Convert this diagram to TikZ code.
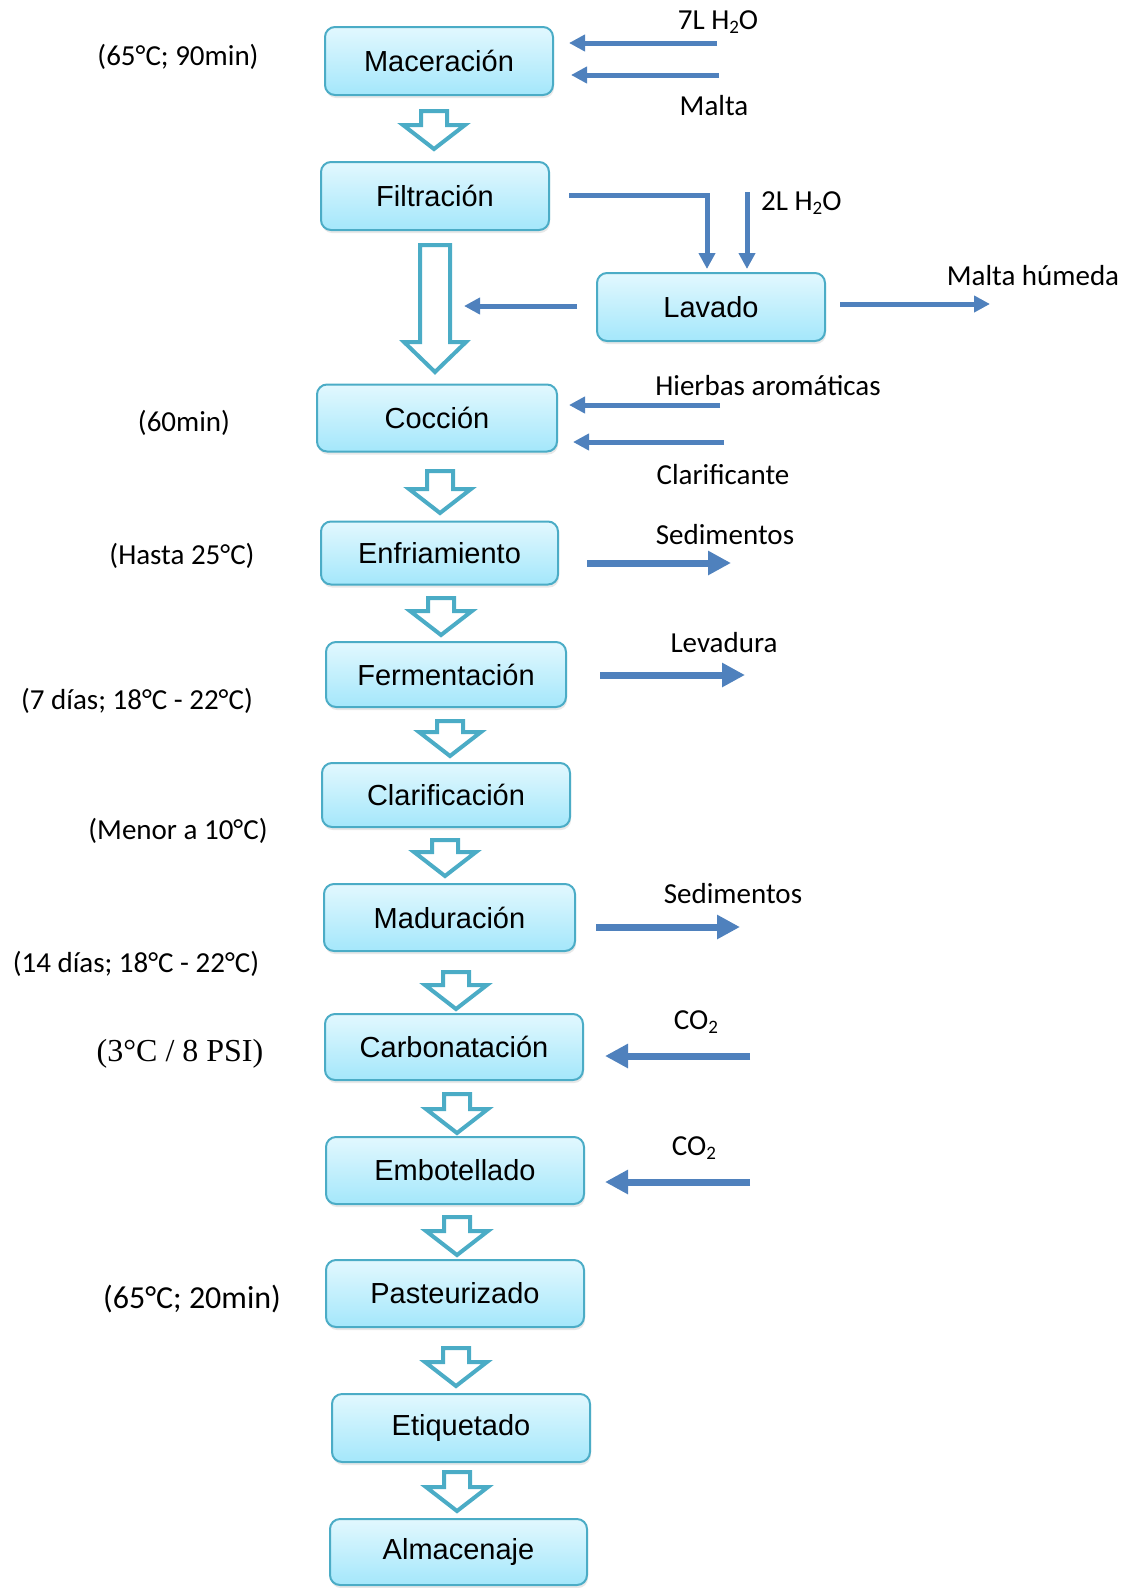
\documentclass[tikz,border=0pt]{standalone}
\usepackage{fontspec}
\setmainfont{Liberation Sans}
\newfontfamily\calfont{Carlito}
\newfontfamily\tmsfont{Liberation Serif}
\usetikzlibrary{arrows.meta,shadows}
\definecolor{boxedge}{HTML}{4BACC6}
\definecolor{boxtop}{HTML}{E2F8FE}
\definecolor{boxbot}{HTML}{A4E7FB}
\definecolor{flowblue}{HTML}{4F81BD}
\newcommand\subtwo{\raisebox{-0.25ex}{\fontsize{19}{19}\selectfont 2}}
\newcommand\harrow[3]{% cx, ytop, ytip
  \draw[hollow] (#1-13,#2) -- (#1+13,#2) -- (#1+13,#3-24) -- (#1+31,#3-24) -- (#1,#3) -- (#1-31,#3-24) -- (#1-13,#3-24) -- cycle;}
\tikzset{
  stepbox/.style={draw=boxedge, line width=2pt, rounded corners=10pt,
    top color=boxtop, bottom color=boxbot, inner sep=0pt,
    font=\fontsize{29}{31}\selectfont,
    drop shadow={opacity=0.18, shadow xshift=1pt, shadow yshift=-3pt}},
  lbl/.style={font=\calfont\fontsize{29}{31}\selectfont, inner sep=0pt},
  hollow/.style={draw=boxedge, line width=4pt, fill=white, line join=miter},
  thin/.style={draw=flowblue, line width=5pt, -{Triangle[length=16pt,width=16pt]}},
  thick/.style={draw=flowblue, line width=7pt, -{Triangle[length=23pt,width=23pt]}},
}
\begin{document}
\begin{tikzpicture}[x=1pt,y=-1pt]
\useasboundingbox (0,0) rectangle (1134,1588);
% hollow arrows (drawn first, boxes on top)
\harrow{434}{111}{149}
\draw[hollow] (420,245) -- (450,245) -- (450,342) -- (466,342) -- (435,372) -- (404,342) -- (420,342) -- cycle;
\harrow{440}{471}{513}
\harrow{441}{598}{635}
\harrow{450}{721}{756}
\harrow{445}{840}{876}
\harrow{456}{972}{1009}
\harrow{457}{1094}{1133}
\harrow{457}{1217}{1255}
\harrow{456}{1348}{1386}
\harrow{457}{1472}{1511}
% boxes
\node[stepbox, minimum width=228pt, minimum height=68pt] (mac) at (439,61) {Maceración};
\node[stepbox, minimum width=228pt, minimum height=68pt] (fil) at (435,196) {Filtración};
\node[stepbox, minimum width=228pt, minimum height=68pt] (lav) at (711,307) {Lavado};
\node[stepbox, minimum width=240pt, minimum height=67pt] (coc) at (437,418) {Cocción};
\node[stepbox, minimum width=237pt, minimum height=63pt] (enf) at (439.5,553) {Enfriamiento};
\node[stepbox, minimum width=240pt, minimum height=65pt] (fer) at (446,674.5) {Fermentación};
\node[stepbox, minimum width=248pt, minimum height=64pt] (cla) at (446,795) {Clarificación};
\node[stepbox, minimum width=251pt, minimum height=67pt] (mad) at (449.5,917.5) {Maduración};
\node[stepbox, minimum width=258pt, minimum height=66pt] (car) at (454,1047) {Carbonatación};
\node[stepbox, minimum width=258pt, minimum height=67pt] (emb) at (455,1170.5) {Embotellado};
\node[stepbox, minimum width=258pt, minimum height=67pt] (pas) at (455,1293.5) {Pasteurizado};
\node[stepbox, minimum width=258pt, minimum height=68pt] (eti) at (461,1428) {Etiquetado};
\node[stepbox, minimum width=257pt, minimum height=66pt] (alm) at (458.5,1552) {Almacenaje};
% left condition labels
\node[lbl] (c1) at (178,57) {(65°C; 90min)};
\node[lbl] (c2) at (184,423) {(60min)};
\node[lbl] (c3) at (182,556) {(Hasta 25°C)};
\node[lbl] (c4) at (137,701) {(7 días; 18°C - 22°C)};
\node[lbl] (c5) at (178,831) {(Menor a 10°C)};
\node[lbl] (c6) at (136,964) {(14 días; 18°C - 22°C)};
\node[font=\tmsfont\fontsize{32}{34}\selectfont, inner sep=0pt] (c7) at (180,1054) {(3°C / 8 PSI)};
\node[lbl, font=\calfont\fontsize{32}{34}\selectfont] (c8) at (192,1299) {(65°C; 20min)};
% right labels
\node[lbl] (l7l) at (718,22) {7L H\subtwo O};
\node[lbl] (lmal) at (714,106) {Malta};
\node[lbl, anchor=west] (l2l) at (761,203) {2L H\subtwo O};
\node[lbl] (lmh) at (1033,276) {Malta húmeda};
\node[lbl] (lhie) at (768,386) {Hierbas aromáticas};
\node[lbl] (lcla) at (723,475) {Clarificante};
\node[lbl] (lsed1) at (725,535) {Sedimentos};
\node[lbl] (llev) at (724,643) {Levadura};
\node[lbl] (lsed2) at (733,894) {Sedimentos};
\node[lbl] (lco1) at (696,1022) {CO\subtwo};
\node[lbl] (lco2) at (694,1148) {CO\subtwo};
% coordinates for free ends
\coordinate (a1s) at (717,43);  \coordinate (a1e) at (569,43);
\coordinate (a2s) at (719,75);  \coordinate (a2e) at (571,75);
\coordinate (f1s) at (569,195); \coordinate (f1c) at (707,195); \coordinate (f1e) at (707,269);
\coordinate (w2s) at (747,192); \coordinate (w2e) at (747,269);
\coordinate (lvls) at (577,306); \coordinate (lvle) at (464,306);
\coordinate (lvrs) at (840,304); \coordinate (lvre) at (990,304);
\coordinate (hs) at (720,405);  \coordinate (he) at (569,405);
\coordinate (cls) at (724,442); \coordinate (cle) at (573,442);
\coordinate (s1s) at (587,563); \coordinate (s1e) at (731,563);
\coordinate (lvs) at (600,675); \coordinate (lve) at (745,675);
\coordinate (s2s) at (596,927); \coordinate (s2e) at (740,927);
\coordinate (co1s) at (750,1056); \coordinate (co1e) at (605,1056);
\coordinate (co2s) at (750,1182); \coordinate (co2e) at (605,1182);
% blue flow arrows
\draw[thin] (a1s) -- (a1e);
\draw[thin] (a2s) -- (a2e);
\draw[thin, line join=miter] (f1s) -- (f1c) -- (f1e);
\draw[thin] (w2s) -- (w2e);
\draw[thin] (lvls) -- (lvle);
\draw[thin] (lvrs) -- (lvre);
\draw[thin] (hs) -- (he);
\draw[thin] (cls) -- (cle);
\draw[thick] (s1s) -- (s1e);
\draw[thick] (lvs) -- (lve);
\draw[thick] (s2s) -- (s2e);
\draw[thick] (co1s) -- (co1e);
\draw[thick] (co2s) -- (co2e);
\end{tikzpicture}
\end{document}
